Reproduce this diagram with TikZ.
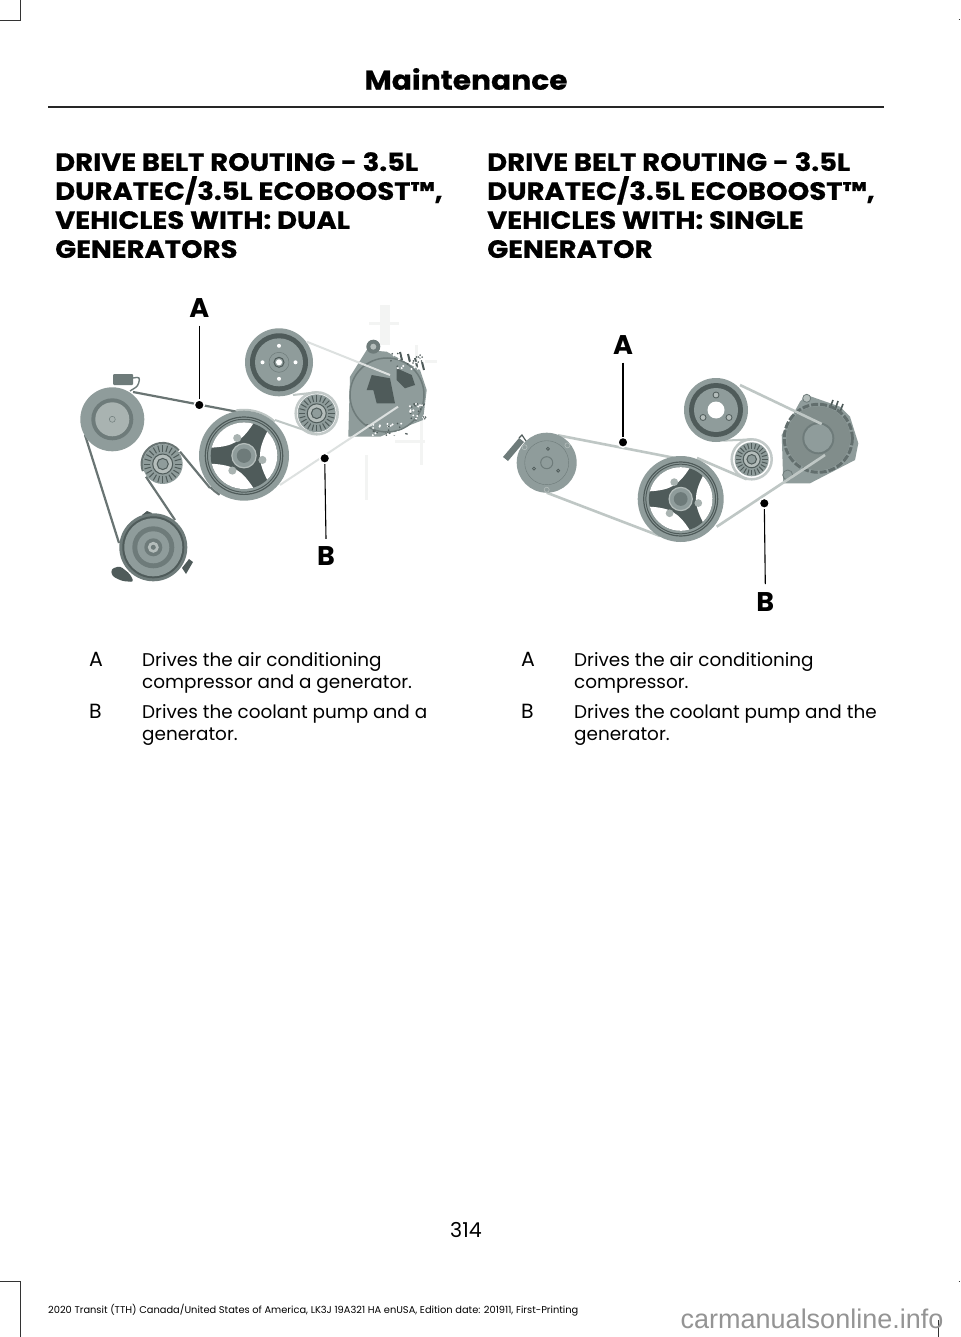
\documentclass[tikz,border=0pt]{standalone}
\usepackage{fontspec}
\setmainfont{Poppins}
\newfontfamily\markfont{Liberation Sans}
\newfontfamily\headfont{Poppins}[FakeStretch=1.1,BoldFeatures={FakeBold=0.6}]
\usetikzlibrary{calc}
\definecolor{RIMGREY}{HTML}{8F9C9B}
\definecolor{DARKGREY}{HTML}{4F5B5A}
\definecolor{MIDGREY}{HTML}{6E7B7A}
\definecolor{PALEGREY}{HTML}{B4BDBB}
\definecolor{GHOSTGREY}{HTML}{F3F4F3}
\tikzset{
BELTDARK/.style={draw=DARKGREY!85!white,line width=2.2pt},
BELTPALE/.style={draw=PALEGREY!85!white,line width=2pt},
LEADER/.style={draw=black,line width=1.1pt},
DOT/.style={circle,fill=black,draw=white,line width=1.5pt,inner sep=0pt,minimum size=10pt},
CALLOUT/.style={font=\fontsize{27}{27}\selectfont\bfseries,inner sep=0pt},
HEADING/.style={font=\fontsize{25}{29}\selectfont\headfont\bfseries,anchor=north west,align=left,inner sep=0pt},
BODY/.style={font=\fontsize{18.4}{22}\selectfont,anchor=north west,align=left,inner sep=0pt},
KEY/.style={font=\fontsize{20.5}{22}\selectfont,anchor=north west,inner sep=0pt},
RULE/.style={draw=black!80,line width=1pt},
}
% ridged idler wheel
\newcommand{\IDLER}[2]{
	\fill[RIMGREY] (#1) circle (#2);
	\foreach \a in {0,15,...,345}
		\draw[DARKGREY,line width=1pt] ($(#1)+(\a:{0.62*#2})$) -- ($(#1)+(\a:{0.94*#2})$);
	\draw[DARKGREY,line width=1pt,fill=PALEGREY] (#1) circle ({0.5*#2});
	\draw[DARKGREY,line width=1pt,fill=RIMGREY] (#1) circle ({0.28*#2});
}
% crankshaft wheel with three spokes
\newcommand{\CRANK}[2]{
	\fill[RIMGREY] (#1) circle (#2);
	\draw[DARKGREY,line width=1.2pt] (#1) circle ({0.86*#2});
	\draw[DARKGREY,line width=1pt] (#1) circle ({0.81*#2});
	\fill[DARKGREY] (#1) circle ({0.74*#2});
	\foreach \a in {0,120,240}
		\fill[white] ($(#1)+({\a-46}:{0.74*#2})$) arc[start angle={\a-46},end angle={\a+46},radius={0.74*#2}]
		.. controls ($(#1)+({\a+20}:{0.32*#2})$) and ($(#1)+({\a-20}:{0.32*#2})$) .. cycle;
	\foreach \a in {13,128,249}
		\fill[PALEGREY!70!RIMGREY] ($(#1)+(\a:{0.42*#2})$) circle ({0.09*#2});
	\draw[PALEGREY,line width=1.2pt,fill=RIMGREY] (#1) circle ({0.27*#2});
	\fill[MIDGREY] (#1) circle ({0.16*#2});
}
\begin{document}
\begin{tikzpicture}
[x=1pt, y=-1pt]
	\useasboundingbox (0,0) rectangle (960,1337);
	\fill[white] (0,0) rectangle (960,1337);
	% page furniture
	\draw[RULE] (0,20.5) -- (20.5,20.5) -- (20.5,0);
	\draw[RULE] (0,1281.5) -- (20,1281.5) -- (20,1337);
	\draw[RULE] (938.5,1320) -- (938.5,1337);
	\draw[RULE] (958.5,19.5) -- (960,19.5);
	\draw[RULE] (958.5,1281.5) -- (960,1281.5);
	\draw[draw=black!85,line width=2pt] (48,107) -- (884,107);
	\node[font=\fontsize{27}{27}\selectfont\headfont\bfseries,inner sep=0pt] (title) at (466,79) {Maintenance};
	\node[HEADING] (headL) at (55,152) {DRIVE BELT ROUTING - 3.5L\\DURATEC/3.5L ECOBOOST™,\\VEHICLES WITH: DUAL\\GENERATORS};
	\node[HEADING] (headR) at (487,152) {DRIVE BELT ROUTING - 3.5L\\DURATEC/3.5L ECOBOOST™,\\VEHICLES WITH: SINGLE\\GENERATOR};
	\node[KEY] (keyLA) at (89,652) {A};
	\node[BODY] (textLA) at (142,652.5) {Drives the air conditioning\\compressor and a generator.};
	\node[KEY] (keyLB) at (89,704) {B};
	\node[BODY] (textLB) at (142,704.5) {Drives the coolant pump and a\\generator.};
	\node[KEY] (keyRA) at (521,652) {A};
	\node[BODY] (textRA) at (574,652.5) {Drives the air conditioning\\compressor.};
	\node[KEY] (keyRB) at (521,704) {B};
	\node[BODY] (textRB) at (574,704.5) {Drives the coolant pump and the\\generator.};
	\node[font=\fontsize{20.5}{20.5}\selectfont,inner sep=0pt] (pageno) at (466,1230) {314};
	\node[font=\fontsize{9.85}{9.85}\selectfont,anchor=base west,inner sep=0pt] (footer) at (48,1313) {2020 Transit (TTH) Canada/United States of America, LK3J 19A321 HA enUSA, Edition date: 201911, First-Printing};
	\node[font=\fontsize{27}{27}\selectfont\markfont,text=black!42,anchor=base west,inner sep=0pt] (mark) at (680.5,1328) {carmanualsonline.info};

	% left engine
	\coordinate (acL) at (112.3,419.3);
	\coordinate (idlerL) at (162.7,464);
	\coordinate (crankL) at (244,455.7);
	\coordinate (pumpL) at (279,362.3);
	\coordinate (tensL) at (316.7,413.3);
	\coordinate (genL) at (387,395);
	\coordinate (compL) at (153.3,547.3);
	\foreach \x/\y/\w/\h in {380/305/10/40,369/322/30/3,415/345/3/25,420/405/3/60,395/440/30/3,365/455/3/45,425/360/12/3}
		\fill[GHOSTGREY] (\x,\y) rectangle ++(\w,\h);
	\draw[BELTDARK] (133,392) -- (236.7,411.7);
	\draw[BELTDARK] (180,451.7) -- (210,488);
	\draw[BELTDARK] ($(crankL)+(137:46)$) arc[start angle=137,end angle=122,radius=46];
	\draw[BELTDARK] ($(idlerL)+(-40:21)$) arc[start angle=-40,end angle=-200,radius=21];
	\draw[BELTDARK] (146,476.7) -- (175,520);
	\draw[BELTDARK] (119,543) -- (85,435);
	\draw[PALEGREY!80!white,line width=2.5pt] (tensL) circle (21);
	\draw[BELTPALE] (293,395) -- (316.7,392.3);
	\draw[BELTPALE] (316.7,434.3) -- (275,420);
	\draw[BELTPALE] ($(crankL)+(-100:46)$) arc[start angle=-100,end angle=-48,radius=46];
	% accessory wheels
	\fill[RIMGREY] (acL) circle (32);
	\fill[MIDGREY] (acL) circle (21);
	\fill[PALEGREY!70!RIMGREY] (acL) circle (17);
	\draw[MIDGREY,line width=0.5pt] (acL) circle (3);
	\fill[MIDGREY,rounded corners=1pt] (113,374) rectangle (133,385);
	\draw[MIDGREY,line width=1.4pt,rounded corners=3pt] (133,378) -- (140,377) -- (138,386) -- (130,391);
	\IDLER{idlerL}{20}
	\CRANK{crankL}{45}
	\fill[RIMGREY] (pumpL) circle (34);
	\fill[DARKGREY] (pumpL) circle (29);
	\fill[RIMGREY] (pumpL) circle (24);
	\draw[MIDGREY,line width=0.5pt] (pumpL) circle (10);
	\fill[white] (pumpL) circle (3);
	\draw[DARKGREY,line width=1pt] (pumpL) circle (5);
	\foreach \a in {0,90,180,270}
		\fill[white] ($(pumpL)+(\a:16.5)$) circle (2);
	\IDLER{tensL}{19}
	% compressor wheel at the bottom
	\fill[DARKGREY,rounded corners=3pt] (111,569) -- (120,566) -- (130,574) -- (134,582) -- (122,581) -- (112,576) -- cycle;
	\fill[DARKGREY] (142,515) -- (147,511) -- (152,513) -- (150,518) -- cycle;
	\fill[DARKGREY] (182,568) -- (189,559) -- (193,562) -- (186,574) -- cycle;
	\fill[MIDGREY] (compL) circle (34);
	\fill[DARKGREY] (compL) circle (31);
	\fill[RIMGREY] (compL) circle (29);
	\fill[MIDGREY] (compL) circle (21);
	\fill[RIMGREY] (compL) circle (16);
	\fill[MIDGREY] (compL) circle (9);
	\fill[PALEGREY] (compL) circle (5.5);
	\fill[MIDGREY] (compL) circle (2.5);
	% left generator
	\fill[RIMGREY] (366.7,350) -- (350,376.7) -- (348.3,436.7) -- (380,436.7) -- (423,420) -- (426.7,390) -- (420,370) -- (386.7,351.7) -- cycle;
	\fill[MIDGREY] (373.3,346.7) circle (7);
	\fill[PALEGREY] (373.3,346.7) circle (3);
	\draw[MIDGREY,line width=1.5pt] (387,395) circle (37);
	\fill[DARKGREY] (371.7,375) -- (390,378.3) -- (395,403.3) -- (376.7,403.3) -- (373.3,390) -- (366.7,390) -- cycle;
	\fill[DARKGREY] (396.7,368.3) -- (411.7,375) -- (415,385) -- (405,388.3) -- (396.7,380) -- cycle;
	\foreach \x/\y in {400/352,408/354,415/358,422/362}
		\draw[DARKGREY,line width=2pt] (\x,\y) -- ++(2,8);
	\pgfmathsetseed{314}
	\foreach \cx/\cy/\cw/\ch in {390/353/33/16,410/403/17/17,367/423/40/13}{
		\foreach \i in {1,...,16}{
			\fill[white] ({\cx+rnd*\cw},{\cy+rnd*\ch}) circle (1.1);
			\fill[DARKGREY] ({\cx+rnd*\cw},{\cy+rnd*\ch}) circle (0.9);
		}
	}
	\draw[BELTPALE,draw=PALEGREY!45!white] (306.7,341.7) -- (390,375);
	\draw[BELTPALE,draw=PALEGREY!45!white] (280,485) -- (398,406.7);
	\node[CALLOUT] (lblAL) at (199.3,308) {A};
	\node[DOT] (dotAL) at (199.3,405) {};
	\draw[LEADER] (lblAL.south) ++(0,8) -- (dotAL);
	\node[CALLOUT] (lblBL) at (326,556.5) {B};
	\node[DOT] (dotBL) at (324.7,458.3) {};
	\draw[LEADER] (lblBL.north) ++(0,-8) -- (dotBL);

	% right engine
	\coordinate (acR) at (546.7,462.7);
	\coordinate (crankR) at (680.7,499);
	\coordinate (pumpR) at (716,410);
	\coordinate (tensR) at (751.7,459.3);
	\coordinate (genR) at (818.3,438.3);
	\draw[BELTPALE,line width=2.6pt] (558,435.3) -- (675,458);
	\draw[BELTPALE,line width=2.6pt] (546.7,492.7) -- (660,536);
	\draw[PALEGREY!80!white,line width=2.5pt] (tensR) circle (20);
	\draw[BELTPALE] (723.3,440.7) -- (751.7,439.3);
	\draw[BELTPALE,line width=2.6pt] (746.7,479.3) -- (697,458);
	\fill[RIMGREY] (acR) circle (30);
	\draw[MIDGREY,line width=0.4pt] (acR) circle (22);
	\foreach \a in {35,155,275}
		\draw[DARKGREY,line width=0.8pt] ($(acR)+(\a:14)$) circle (1.5);
	\foreach \a in {-40,90,215}
		\draw[PALEGREY,line width=0.6pt] ($(acR)+(\a:27)$) circle (2.5);
	\draw[MIDGREY,line width=1pt] (acR) circle (6);
	\fill[MIDGREY] (514,444) -- (519,438) -- (524,442) -- (508,461) -- (503,457) -- cycle;
	\draw[DARKGREY,line width=1.2pt] (519,438) -- (522,435) -- (526,441);
	\CRANK{crankR}{43}
	\fill[RIMGREY] (pumpR) circle (32);
	\fill[DARKGREY] (pumpR) circle (27);
	\fill[RIMGREY] (pumpR) circle (22);
	\fill[white] (pumpR) circle (8.5);
	\foreach \a in {30,150,270}{
		\fill[PALEGREY] ($(pumpR)+(\a:15)$) circle (3);
		\draw[DARKGREY,line width=0.8pt] ($(pumpR)+(\a:15)$) circle (3);
	}
	\IDLER{tensR}{17}
	% right generator
	\fill[RIMGREY] (781.7,435) -- (783.3,483.3) -- (810,483.3) -- (855,460) -- (858.3,443.3) -- (850,416.7) -- (840,406.7) -- (806.7,395) -- (800,401.7) -- cycle;
	\draw[DARKGREY,line width=1.6pt] (830,408) -- (833,400);
	\draw[DARKGREY,line width=1.6pt] (835,410) -- (838,401);
	\draw[DARKGREY,line width=1.6pt] (840,412) -- (843,404);
	\draw[MIDGREY,line width=0.8pt,fill=PALEGREY] (806.7,398.3) circle (4);
	\draw[MIDGREY,line width=0.8pt,fill=RIMGREY] (787.7,475) circle (5);
	\draw[DARKGREY!70!RIMGREY,line width=3pt,dash pattern=on 7pt off 2pt] (genR) circle (34);
	\fill[RIMGREY!90!black] (genR) circle (32);
	\fill[MIDGREY] (genR) circle (16);
	\fill[RIMGREY] (genR) circle (14);
	\draw[BELTPALE,line width=2.6pt] (740,385) -- (821.7,424);
	\draw[BELTPALE,line width=2.6pt] (716.7,526.7) -- (825,455);
	\node[CALLOUT] (lblAR) at (623,345) {A};
	\node[DOT] (dotAR) at (623,442.3) {};
	\draw[LEADER] (lblAR.south) ++(0,8) -- (dotAR);
	\node[CALLOUT] (lblBR) at (765.3,601.7) {B};
	\node[DOT] (dotBR) at (764.3,503.3) {};
	\draw[LEADER] (lblBR.north) ++(0,-8) -- (dotBR);
\end{tikzpicture}
\end{document}
